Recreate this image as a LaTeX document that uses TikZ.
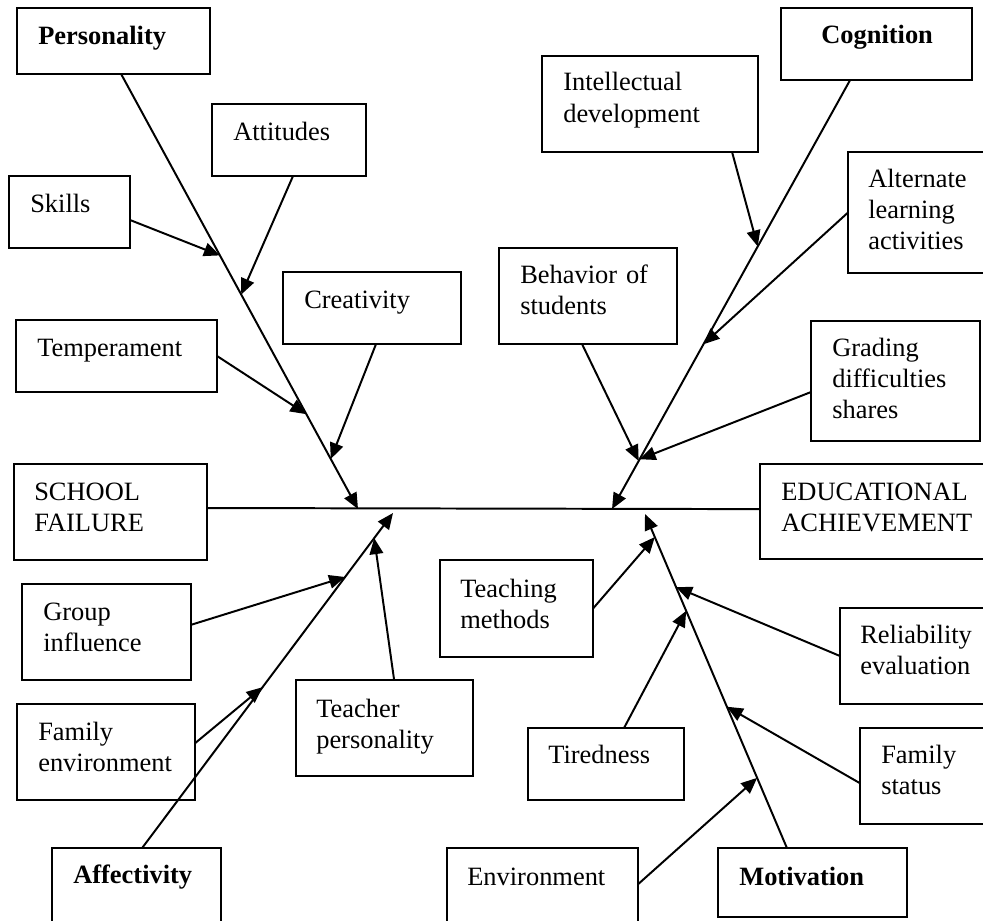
\documentclass[tikz,border=0pt]{standalone}
\usepackage{fontspec}
\setmainfont{Liberation Serif}
\usepackage{tikz}
\usetikzlibrary{arrows.meta,calc}

\begin{document}
\begin{tikzpicture}[
    x=0.025cm, y=-0.025cm,
    cause box/.style={
        draw=black,
        line width=1.3pt,
        anchor=north west,
        inner sep=0pt,
        outer sep=0pt
    },
    cause label/.style={
        anchor=base west,
        align=left,
        text width=5.5cm,
        inner sep=0pt,
        font=\fontsize{18.8pt}{22.2pt}\selectfont
    },
    group label/.style={
        cause label,
        font=\fontsize{18.8pt}{22.2pt}\selectfont\bfseries
    },
    main bone/.style={
        line width=1.4pt,
        -{Triangle[length=0.4cm,width=0.34cm]}
    },
    sub arrow/.style={main bone},
    spine/.style={line width=1.4pt}
]

% Page frame (the boxes on the right and bottom run off the page)
\clip (0,0) rectangle (983,920);

% === UPPER LEFT: PERSONALITY ===
\node[cause box, minimum width=4.825cm, minimum height=1.65cm] (pers) at (17,8) {};
\node[group label] (pers-l) at ($(pers.north west)+(21,37)$) {Personality};

\node[cause box, minimum width=3.85cm, minimum height=1.8cm] (attit) at (212,104) {};
\node[cause label] (attit-l) at ($(attit.north west)+(21,36)$) {Attitudes};

\node[cause box, minimum width=3.025cm, minimum height=1.8cm] (skills) at (9,176) {};
\node[cause label] (skills-l) at ($(skills.north west)+(21,36)$) {Skills};

\node[cause box, minimum width=4.45cm, minimum height=1.8cm] (creat) at (283,272) {};
\node[cause label] (creat-l) at ($(creat.north west)+(21,36)$) {Creativity};

\node[cause box, minimum width=5.025cm, minimum height=1.8cm] (temper) at (16,320) {};
\node[cause label] (temper-l) at ($(temper.north west)+(21,36)$) {Temperament};

% === UPPER RIGHT: COGNITION ===
\node[cause box, minimum width=4.775cm, minimum height=1.8cm] (cogn) at (781,8) {};
\node[group label] (cogn-l) at ($(cogn.north west)+(40,36)$) {Cognition};

\node[cause box, minimum width=5.4cm, minimum height=2.4cm] (intel) at (542,56) {};
\node[cause label] (intel-l) at ($(intel.north west)+(21,35)$) {Intellectual\\development};

\node[cause box, minimum width=4.0cm, minimum height=3.025cm] (altern) at (848,152) {};
\node[cause label] (altern-l) at ($(altern.north west)+(20,35)$) {Alternate\\learning\\activities};

\node[cause box, minimum width=4.45cm, minimum height=2.4cm] (behav) at (499,248) {};
\node[cause label] (behav-l) at ($(behav.north west)+(21,35)$) {Behavior of\\students};

\node[cause box, minimum width=4.225cm, minimum height=3.0cm] (grad) at (811,321) {};
\node[cause label] (grad-l) at ($(grad.north west)+(21,35)$) {Grading\\difficulties\\shares};

% === THE TWO ENDS ===
\node[cause box, minimum width=4.825cm, minimum height=2.4cm] (failure) at (14,464) {};
\node[cause label] (failure-l) at ($(failure.north west)+(20,36)$) {SCHOOL\\FAILURE};

\node[cause box, minimum width=6.25cm, minimum height=2.375cm] (achiev) at (760,464) {};
\node[cause label] (achiev-l) at ($(achiev.north west)+(21,36)$) {EDUCATIONAL\\ACHIEVEMENT};

% === LOWER LEFT: AFFECTIVITY ===
\node[cause box, minimum width=4.225cm, minimum height=2.4cm] (group) at (22,584) {};
\node[cause label] (group-l) at ($(group.north west)+(21,36)$) {Group\\influence};

\node[cause box, minimum width=4.45cm, minimum height=2.4cm] (famenv) at (17,704) {};
\node[cause label] (famenv-l) at ($(famenv.north west)+(21,36)$) {Family\\environment};

\node[cause box, minimum width=4.425cm, minimum height=2.4cm] (teacher) at (296,680) {};
\node[cause label] (teacher-l) at ($(teacher.north west)+(20,37)$) {Teacher\\personality};

\node[cause box, minimum width=4.225cm, minimum height=2.25cm] (affect) at (52,848) {};
\node[group label] (affect-l) at ($(affect.north west)+(21,35)$) {Affectivity};

% === LOWER RIGHT: MOTIVATION ===
\node[cause box, minimum width=3.825cm, minimum height=2.425cm] (teach) at (440,560) {};
\node[cause label] (teach-l) at ($(teach.north west)+(20,37)$) {Teaching\\methods};

\node[cause box, minimum width=4.0cm, minimum height=2.4cm] (reliab) at (840,608) {};
\node[cause label] (reliab-l) at ($(reliab.north west)+(20,35)$) {Reliability\\evaluation};

\node[cause box, minimum width=3.9cm, minimum height=1.8cm] (tired) at (528,728) {};
\node[cause label] (tired-l) at ($(tired.north west)+(20,35)$) {Tiredness};

\node[cause box, minimum width=3.5cm, minimum height=2.4cm] (famst) at (860,728) {};
\node[cause label] (famst-l) at ($(famst.north west)+(21,35)$) {Family\\status};

\node[cause box, minimum width=4.775cm, minimum height=2.25cm] (envir) at (447,848) {};
\node[cause label] (envir-l) at ($(envir.north west)+(20,37)$) {Environment};

\node[cause box, minimum width=4.725cm, minimum height=1.725cm] (motiv) at (718,848) {};
\node[group label] (motiv-l) at ($(motiv.north west)+(21,37)$) {Motivation};

% === SPINE AND MAIN BONES ===
\draw[spine] ([yshift=0.1cm]failure.east) -- ([yshift=0.06cm]achiev.west);

\coordinate (pers-tip) at (358,509);
\coordinate (cogn-tip) at (612,509);
\coordinate (aff-tip) at (393,513);
\coordinate (mot-tip) at (645,514);

\coordinate (pers-foot) at ([xshift=0.19cm]pers.south);
\coordinate (cogn-foot) at ([xshift=-0.66cm]cogn.south);
\coordinate (aff-foot) at ([xshift=0.14cm]affect.north);
\coordinate (mot-foot) at ([xshift=-0.64cm]motiv.north);

\draw[main bone] (pers-foot) -- (pers-tip);
\draw[main bone] (cogn-foot) -- (cogn-tip);
\draw[main bone] (aff-foot) -- (aff-tip);
\draw[main bone] (mot-foot) -- (mot-tip);

% Personality causes
\draw[sub arrow] ([yshift=-0.2cm]skills.east) -- ($(pers-foot)!0.417!(pers-tip)$);
\draw[sub arrow] ([xshift=0.1cm]attit.south) -- ($(pers-foot)!0.507!(pers-tip)$);
\draw[sub arrow] (temper.east) -- ($(pers-foot)!0.782!(pers-tip)$);
\draw[sub arrow] ([xshift=0.1cm]creat.south) -- ($(pers-foot)!0.885!(pers-tip)$);

% Cognition causes
\draw[sub arrow] ([xshift=2.05cm]intel.south) -- ($(cogn-foot)!0.388!(cogn-tip)$);
\draw[sub arrow] (altern.west) -- ($(cogn-foot)!0.616!(cogn-tip)$);
\draw[sub arrow] ([xshift=-0.15cm]behav.south) -- ($(cogn-foot)!0.888!(cogn-tip)$);
\draw[sub arrow] ([yshift=-0.275cm]grad.west) -- ($(cogn-foot)!0.884!(cogn-tip)$);

% Affectivity causes
\draw[sub arrow] ([yshift=0.18cm]group.east) -- ($(aff-foot)!0.809!(aff-tip)$);
\draw[sub arrow] ([yshift=0.22cm]famenv.east) -- ($(aff-foot)!0.48!(aff-tip)$);
\draw[sub arrow] ([xshift=0.24cm]teacher.north) -- ($(aff-foot)!0.925!(aff-tip)$);

% Motivation causes
\draw[sub arrow] (teach.east) -- ($(mot-foot)!0.931!(mot-tip)$);
\draw[sub arrow] (reliab.west) -- ($(mot-foot)!0.781!(mot-tip)$);
\draw[sub arrow] ([xshift=0.45cm]tired.north) -- ($(mot-foot)!0.71!(mot-tip)$);
\draw[sub arrow] ([yshift=-0.18cm]famst.west) -- ($(mot-foot)!0.423!(mot-tip)$);
\draw[sub arrow] ([yshift=0.22cm]envir.east) -- ($(mot-foot)!0.21!(mot-tip)$);

\end{tikzpicture}
\end{document}
